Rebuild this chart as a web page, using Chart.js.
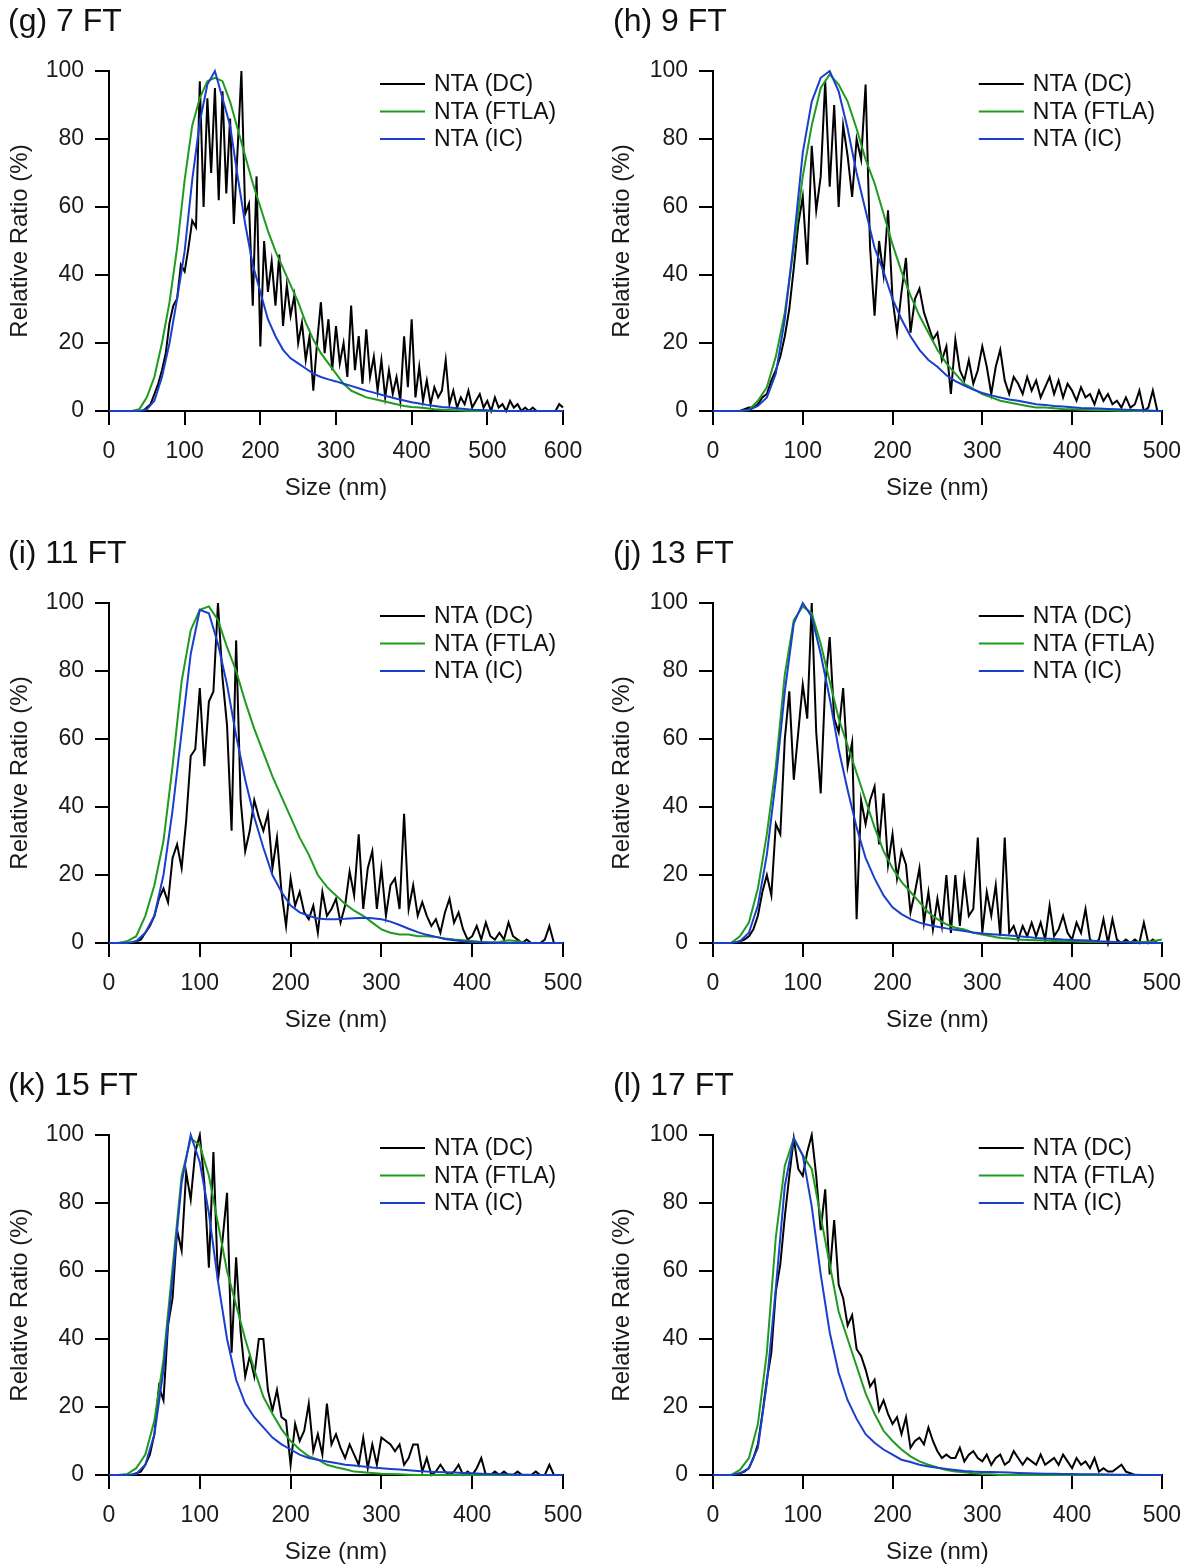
<!DOCTYPE html>
<html>
<head>
<meta charset="utf-8">
<script src="https://cdn.jsdelivr.net/npm/chart.js@4.4.1/dist/chart.umd.min.js"></script>
<style>
  html, body { margin: 0; padding: 0; background: #fff; overflow: hidden; }
  #wrap { position: relative; width: 1194px; height: 1568px; background: #fff; }
  #wrap canvas { position: absolute; }
</style>
</head>
<body>
<div id="wrap"></div>
<script>
// size grids (nm) : raw NTA data every 5 nm, fitted curves every 10 nm
const grid = (max, step) => { const a = []; for (let s = 0; s <= max; s += step) a.push(s); return a; };
const dcSize600 = grid(600, 5);
const dcSize500 = grid(500, 5);
const fitSize600 = grid(600, 10);
const fitSize500 = grid(500, 10);

const xTicks600 = [0, 100, 200, 300, 400, 500, 600];
const xTicks500 = [0, 100, 200, 300, 400, 500];
const yTicks = [0, 20, 40, 60, 80, 100];

const seriesNames = ["NTA (DC)", "NTA (FTLA)", "NTA (IC)"];
const seriesColors = ["#000000", "#1f9b1f", "#1a3fcc"];

/* (g) 7 FT */
const gDC = [
  0,0,0,0,0,0,0,0,0,0,
  1,2,5,8,12,17,26,31,33,43,
  41,48,56,54,97,60,92,70,95,62,
  94,64,86,55,77,100,58,61,31,69,
  19,50,35,44,31,46,25,37,28,34,
  20,26,15,22,6,20,32,17,27,12,
  25,14,20,10,31,12,22,8,24,10,
  16,6,15,4,12,5,10,3,22,7,
  27,4,13,3,9,2,7,4,6,15,
  2,6,1,4,2,6,1,3,5,1,
  3,0,4,1,2,0,3,1,2,0,
  1,0,1,0,0,0,0,0,0,2,1
];
const gFTLA = [
  0,0,0,0,0.5,4,10,20,32,48,
  68,84,92,97,98,97,91,83,75,67,
  60,53,47,42,37,32,26,21,17,14,
  11,8,6,5,4,3.5,3,2.5,2,1.5,
  1.2,1,0.8,0.5,0.4,0.3,0.2,0.1,0,0,
  0,0,0,0,0,0,0,0,0,0,0
];
const gIC = [
  0,0,0,0,0,0.5,3,10,20,33,
  47,68,85,96,100,92,84,69,55,43,
  35,27,22,18,15.5,14,12.5,11,10,9.3,
  8.7,8,7.4,6.7,6,5.4,4.8,4.2,3.6,3.1,
  2.6,2.2,1.8,1.5,1.2,1,0.8,0.6,0.4,0.3,
  0.2,0.1,0,0,0,0,0,0,0,0,0
];

/* (h) 9 FT */
const hDC = [
  0,0,0,0,0,0,0,0.5,1,1,
  2,4,5,9,12,16,22,30,42,55,
  63,43,78,59,69,97,66,90,60,84,
  75,63,80,74,96,48,28,50,40,59,
  33,23,35,45,23,33,36,29,25,21,
  23,15,19,5,21,12,9,15,8,12,
  19,13,5,13,18,9,5,10,8,5,
  10,6,9,4,7,10,5,9,4,8,
  6,3,7,4,5,2,6,3,5,2,
  3,1,4,1,2,6,0,1,6,0,0
];
const hFTLA = [
  0,0,0,0,0.3,3,7,16,29,48,
  69,84,95,99,96,91,83,74,67,58,
  49,41,34,28,23,18,14,11,8,6.5,
  5,4,3,2.5,2,1.5,1,1,0.8,0.6,
  0.5,0.4,0.3,0.2,0.2,0.1,0.1,0,0,0,0
];
const hIC = [
  0,0,0,0,0.3,1.5,4,11,27,50,
  76,91,98,100,94,83,70,59,48,41,
  33,27,22,18,15,13,10.5,8.8,7.5,6.3,
  5.3,4.6,4,3.4,3,2.5,2,1.8,1.5,1.3,
  1.1,0.9,0.8,0.7,0.6,0.5,0.4,0.3,0.2,0.1,0
];

/* (i) 11 FT */
const iDC = [
  0,0,0,0,0,0,0.5,1,3,5,
  8,13,16,12,25,29,22,36,55,57,
  75,52,71,74,100,78,64,33,89,42,
  27,33,42,37,33,38,22,31,15,5,
  19,11,15,9,7,11,3,15,8,10,
  13,6,11,21,14,32,10,22,27,10,
  22,8,17,19,10,38,10,17,8,12,
  8,5,7,3,9,13,6,9,4,1,
  2,5,1,6,2,1,3,1,6,2,
  1,0,1,0,0,0,1,5,0,0,0
];
const iFTLA = [
  0,0,0.5,2,8,17,30,52,77,92,
  98,99,95,87,80,71,63,56,49,43,
  37,31,26,20,16.5,14,11.5,9.5,8,6,
  4,3,2.5,2.5,2,2,1.8,1.3,1,0.8,
  0.6,0.3,0.2,0.3,0.8,0.5,0,0,0,0,0
];
const iIC = [
  0,0,0,0.5,3,8,20,39,62,85,
  98,97,88,76,61,48,37,28,20,15,
  11,9,8,7.2,7,7,7.1,7.3,7.4,7.3,
  7,6.3,5.3,4.2,3.2,2.4,1.8,1.2,0.8,0.5,
  0.3,0.2,0.1,0,0,0,0,0,0,0,0
];

/* (j) 13 FT */
const jDC = [
  0,0,0,0,0,0,0.5,1,2,4,
  8,15,20,14,35,32,60,74,48,62,
  76,66,100,62,44,76,90,66,62,75,
  52,59,7,42,35,42,46,29,44,23,
  32,19,27,23,9,15,22,6,15,4,
  13,5,20,3,20,5,19,8,10,31,
  3,15,8,17,2,31,3,5,1,5,
  2,6,2,6,1,11,2,4,8,3,
  1,6,3,10,1,0,1,7,0,7,
  1,0,1,0,1,0,6,0,1,0,0
];
const jFTLA = [
  0,0,0,2,6,16,32,52,79,95,
  99,97,88,77,66,58,50,42,34,27,
  22,18,15,12,9,7,5.5,4.5,4,3,
  2.5,2,1.5,1.3,1,0.9,0.8,0.7,0.6,0.5,
  0.5,0.4,0.4,0.3,0.3,0.3,0.3,0.3,0.3,0.5,1
];
const jIC = [
  0,0,0,0.5,3,11,26,48,74,94,
  100,96,85,72,57,45,34,25,19,14,
  10.5,8.5,7,6,5.3,4.8,4.3,3.9,3.5,3.1,
  2.8,2.6,2.4,2.2,2,1.8,1.5,1.3,1.2,1,
  0.9,0.8,0.7,0.5,0.4,0.3,0.2,0.1,0,0,0
];

/* (k) 15 FT */
const kDC = [
  0,0,0,0,0,0,0.5,1,3,6,
  12,26,22,44,52,72,66,89,81,95,
  100,86,61,95,57,69,83,36,64,42,
  29,35,29,40,40,25,19,25,17,16,
  3,15,10,13,21,7,12,6,21,9,
  12,8,5,9,6,3,11,2,9,3,
  11,10,9,7,9,3,5,9,9,1,
  5,0,1,3,1,0,1,3,0,1,
  0,2,5,0,0,1,0,1,0,0,
  1,0,0,0,1,0,0,3,0,0,0
];
const kFTLA = [
  0,0,0.3,2,6,16,34,61,88,99,
  97,88,74,60,50,40,31,23,18,13.5,
  10,7.5,5.5,4.5,3,2.3,1.7,1,0.8,0.6,
  0.4,0.3,0.2,0.1,0,0,0,0,0,0,
  0,0,0,0,0,0,0,0,0,0,0
];
const kIC = [
  0,0,0,0.3,3,12,31,58,86,100,
  92,77,57,40,28,21,17,14,11,9,
  7.5,6,5,4.5,4,3.5,3,2.8,2.5,2.2,
  2,1.8,1.6,1.4,1.2,1,0.9,0.8,0.7,0.6,
  0.5,0.4,0.3,0.2,0.2,0.1,0.1,0,0,0,0
];

/* (l) 17 FT */
const lDC = [
  0,0,0,0,0,0,0.5,1,2,5,
  9,18,28,36,54,62,76,88,99,90,
  88,95,100,88,72,84,59,75,56,52,
  44,47,37,35,31,26,28,19,22,18,
  15,17,12,17,8,10,11,9,14,10,
  7,5,6,5,5,8,4,6,7,5,
  4,6,3,5,6,3,4,7,5,3,
  5,4,3,6,3,4,5,3,6,4,
  2,5,3,4,2,5,1,2,1,1,
  2,3,1,0.5,0,0,0,0,0,0,0
];
const lFTLA = [
  0,0,0,1.5,5,15,36,70,91,99,
  94,90,76,62,48,40,32,24,18,13,
  10,7.5,5.5,4,3,2.2,1.5,1,0.8,0.5,
  0.3,0.2,0,0,0,0,0,0,0,0,
  0,0,0,0,0,0,0,0,0,0,0
];
const lIC = [
  0,0,0,0.5,2,8,27,55,85,99,
  94,79,59,42,30,22,16.5,12,9.5,7.5,
  6,4.5,3.8,3,2.5,2.1,1.8,1.5,1.2,1,
  0.9,0.85,0.8,0.7,0.6,0.5,0.45,0.4,0.35,0.3,
  0.3,0.25,0.2,0.2,0.15,0.1,0.1,0.05,0,0,0
];

const panels = [
  { title: "(g) 7 FT",  col: 0, row: 0, xMax: 600, dcX: dcSize600, fitX: fitSize600, ticks: xTicks600, dc: gDC, ftla: gFTLA, ic: gIC },
  { title: "(h) 9 FT",  col: 1, row: 0, xMax: 500, dcX: dcSize500, fitX: fitSize500, ticks: xTicks500, dc: hDC, ftla: hFTLA, ic: hIC },
  { title: "(i) 11 FT", col: 0, row: 1, xMax: 500, dcX: dcSize500, fitX: fitSize500, ticks: xTicks500, dc: iDC, ftla: iFTLA, ic: iIC },
  { title: "(j) 13 FT", col: 1, row: 1, xMax: 500, dcX: dcSize500, fitX: fitSize500, ticks: xTicks500, dc: jDC, ftla: jFTLA, ic: jIC },
  { title: "(k) 15 FT", col: 0, row: 2, xMax: 500, dcX: dcSize500, fitX: fitSize500, ticks: xTicks500, dc: kDC, ftla: kFTLA, ic: kIC },
  { title: "(l) 17 FT", col: 1, row: 2, xMax: 500, dcX: dcSize500, fitX: fitSize500, ticks: xTicks500, dc: lDC, ftla: lFTLA, ic: lIC },
];

Chart.defaults.font.family = "'Liberation Sans', Arial, sans-serif";
Chart.defaults.color = "#1a1a1a";

const W = 597, H = 532;
const toPoints = (xs, ys) => ys.map((v, i) => ({ x: xs[i], y: v }));

// panel letter + inline legend
const panelDecor = {
  id: "panelDecor",
  afterDraw(chart, args, opts) {
    const { ctx, chartArea } = chart;
    ctx.save();
    ctx.fillStyle = "#111";
    ctx.textBaseline = "middle";
    ctx.textAlign = "left";
    ctx.font = "32px 'Liberation Sans', Arial, sans-serif";
    ctx.fillText(opts.title, opts.titleX, 22);

    ctx.font = "23px 'Liberation Sans', Arial, sans-serif";
    const x0 = chartArea.right - 183;
    seriesNames.forEach((name, i) => {
      const y = chartArea.top + 13 + i * 27.5;
      ctx.strokeStyle = seriesColors[i];
      ctx.lineWidth = 2;
      ctx.beginPath();
      ctx.moveTo(x0, y);
      ctx.lineTo(x0 + 45, y);
      ctx.stroke();
      ctx.fillStyle = "#111";
      ctx.fillText(name, x0 + 54, y + 1);
    });
    ctx.restore();
  },
};

const wrap = document.getElementById("wrap");

panels.forEach((p) => {
  const canvas = document.createElement("canvas");
  canvas.width = W;
  canvas.height = H;
  canvas.style.left = p.col * W + "px";
  canvas.style.top = p.row * H + "px";
  canvas.style.width = W + "px";
  canvas.style.height = H + "px";
  wrap.appendChild(canvas);

  const left = p.col === 0;
  const yWidth = left ? 109 : 116;
  const rightPad = left ? 34 : 28;
  const yTitlePad = left ? 6 : 11;

  const axisGrid = { drawOnChartArea: false, drawTicks: true, tickLength: 14, color: "#000", lineWidth: 2 };
  const axisBorder = { display: true, color: "#000", width: 2 };

  new Chart(canvas.getContext("2d"), {
    type: "line",
    data: {
      datasets: [
        { label: seriesNames[0], data: toPoints(p.dcX, p.dc), borderColor: seriesColors[0], order: 2 },
        { label: seriesNames[1], data: toPoints(p.fitX, p.ftla), borderColor: seriesColors[1], order: 1 },
        { label: seriesNames[2], data: toPoints(p.fitX, p.ic), borderColor: seriesColors[2], order: 0 },
      ],
    },
    options: {
      responsive: false,
      animation: false,
      devicePixelRatio: 1,
      layout: { padding: { top: 71, right: rightPad, left: 0, bottom: 0 } },
      datasets: { line: { clip: 4 } },
      elements: {
        point: { radius: 0 },
        line: { borderWidth: 2, tension: 0, fill: false },
      },
      plugins: {
        legend: { display: false },
        tooltip: { enabled: false },
        panelDecor: { title: p.title, titleX: left ? 8 : 16 },
      },
      scales: {
        x: {
          type: "linear",
          min: 0,
          max: p.xMax,
          afterFit: (s) => { s.height = 121; },
          afterBuildTicks: (s) => { s.ticks = p.ticks.map((v) => ({ value: v })); },
          ticks: { padding: 13, color: "#1a1a1a", font: { size: 23 } },
          grid: axisGrid,
          border: axisBorder,
          title: { display: true, text: "Size (nm)", color: "#1a1a1a", font: { size: 24 }, padding: { top: 0, bottom: 29 } },
        },
        y: {
          min: 0,
          max: 100,
          afterFit: (s) => { s.width = yWidth; },
          afterBuildTicks: (s) => { s.ticks = yTicks.map((v) => ({ value: v })); },
          ticks: { padding: 11, color: "#1a1a1a", font: { size: 23 } },
          grid: axisGrid,
          border: axisBorder,
          title: { display: true, text: "Relative Ratio (%)", color: "#1a1a1a", font: { size: 24 }, padding: { top: yTitlePad, bottom: 0 } },
        },
      },
    },
    plugins: [panelDecor],
  });
});
</script>
</body>
</html>
